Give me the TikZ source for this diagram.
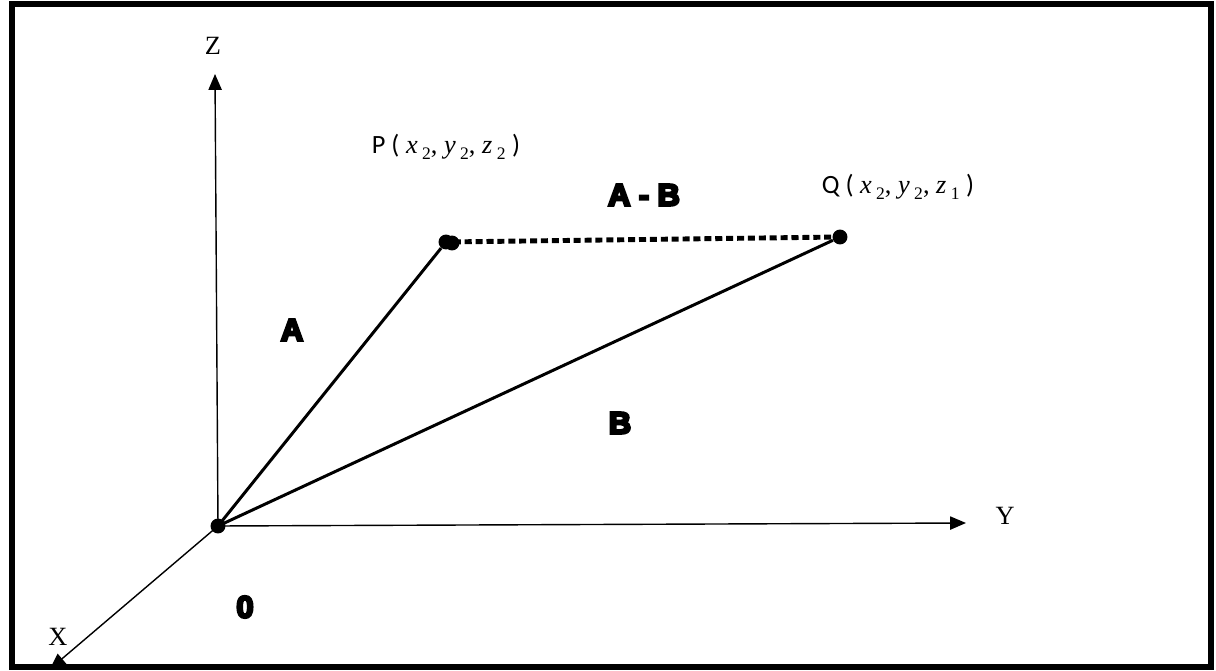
\documentclass[tikz,border=0pt]{standalone}
\usepackage{fontspec}
\setmainfont{Liberation Serif}
\newfontfamily\carl{Carlito}
\newfontfamily\heavy[FakeBold=8]{Liberation Sans Bold}
\usetikzlibrary{arrows.meta}
\newcommand{\cmp}[2]{\textit{#1}\,\raisebox{-0.45ex}{\fontsize{10}{12}\selectfont #2}}
\tikzset{
  eje/.style     = {line width=0.8pt, -{Triangle[length=9pt,width=7.5pt]}},
  vector/.style  = {line width=1.7pt},
  punteada/.style= {line width=2.8pt, dash pattern=on 4pt off 2.2pt},
  punto/.style   = {circle, fill=black, inner sep=0pt, minimum size=8.5pt},
  ejelbl/.style  = {font=\fontsize{15}{17}\selectfont},
  vlbl/.style    = {font=\heavy\fontsize{17.5}{19}\selectfont},
  plbl/.style    = {font=\fontsize{15}{18}\selectfont},
}
\begin{document}
\begin{tikzpicture}[x=0.02cm, y=-0.02cm]
  \useasboundingbox (0,0) rectangle (1216,671);
  \draw[line width=0.11cm] (12,4) rectangle (1211,667);
  % ejes
  \coordinate (O) at (218,526);
  \coordinate (Zt) at (215,74);
  \coordinate (Yt) at (966,523);
  \coordinate (Xt) at (50,669);
  \draw[eje] (O) -- (Zt);
  \draw[eje] (O) -- (Yt);
  \draw[eje] (O) -- (Xt);
  \node[ejelbl] (zl) at (213,46) {Z};
  \node[ejelbl] (yl) at (1005,516) {Y};
  \node[ejelbl] (xl) at (58,637) {X};
  % vectores
  \node[punto] (O1) at (O) {};
  \node[punto] (P) at (446,242) {};
  \node[punto] at (452,243) {};
  \node[punto] (Q) at (840,237) {};
  \draw[vector] (O) -- (P);
  \draw[vector] (O) -- (Q);
  \draw[punteada] (P) -- (Q);
  \node[vlbl] (la) at (292,330) {A};
  \node[vlbl] (lb) at (620,423) {B};
  \node[vlbl] (lab) at (644,195) {A - B};
  \node[vlbl] (l0) at (245,607) {0};
  \node[plbl] (pl) at (446,147) {{\carl P (} \cmp{x}{2}, \cmp{y}{2}, \cmp{z}{2} {\carl)}};
  \node[plbl] (ql) at (898,187) {{\carl Q (} \cmp{x}{2}, \cmp{y}{2}, \cmp{z}{1} {\carl)}};
\end{tikzpicture}
\end{document}
